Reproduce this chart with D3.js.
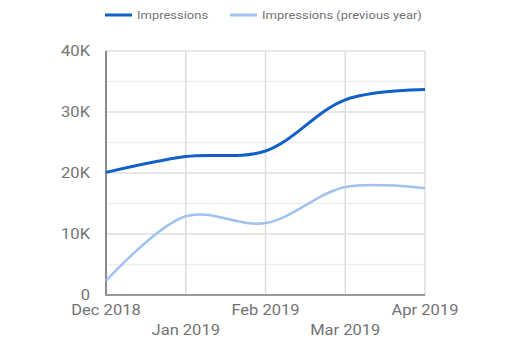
<!DOCTYPE html>
<html><head><meta charset="utf-8">
<script src="https://cdn.jsdelivr.net/npm/d3@7"></script>
<style>body{margin:0;background:#fff;} text{font-family:Roboto,"Noto Sans",sans-serif;}</style>
</head><body>
<script>
const categories = ["Dec 2018","Jan 2019","Feb 2019","Mar 2019","Apr 2019"];
const impressions = [20100, 22700, 23600, 32000, 33700];
const impressionsPrev = [2300, 12900, 11800, 17700, 17500];
const seriesNames = ["Impressions","Impressions (previous year)"];
const yTicks = [0,10000,20000,30000,40000];
const yTickLabels = ["0","10K","20K","30K","40K"];

const W=505,H=348;
const sx=1.18;
const margin={left:106,right:80,top:51,bottom:53};
const svg=d3.select("body").append("svg").attr("width",W).attr("height",H);
const x=d3.scalePoint().domain(categories).range([margin.left,W-margin.right]);
const y=d3.scaleLinear().domain([0,40000]).range([H-margin.bottom,margin.top]);
const colors=["#1160c8","#9fc2ef"];
const txtColor="#737373";

function stext(g,xp,yp,str,size,anchor){
  return g.append("text").attr("transform",`translate(${xp},${yp}) scale(${sx},1)`)
    .attr("text-anchor",anchor).attr("font-size",size).attr("fill",txtColor).text(str);
}

// minor gridlines
const minor=d3.range(5000,40000,10000);
svg.append("g").selectAll("line").data(minor).join("line")
  .attr("x1",margin.left).attr("x2",W-margin.right)
  .attr("y1",d=>y(d)).attr("y2",d=>y(d)).attr("stroke","#eeeeee").attr("stroke-width",1.5);
// major gridlines
svg.append("g").selectAll("line").data(yTicks.slice(1)).join("line")
  .attr("x1",margin.left).attr("x2",W-margin.right)
  .attr("y1",d=>y(d)).attr("y2",d=>y(d)).attr("stroke","#dedede").attr("stroke-width",1.5);
// vertical gridlines
svg.append("g").selectAll("line").data(categories.slice(1)).join("line")
  .attr("x1",d=>x(d)).attr("x2",d=>x(d))
  .attr("y1",y(0)).attr("y2",y(40000)).attr("stroke","#dedede").attr("stroke-width",1.5);

// axes lines
svg.append("line").attr("x1",margin.left).attr("x2",margin.left).attr("y1",y(0)+1).attr("y2",y(40000))
  .attr("stroke","#8a8a8a").attr("stroke-width",2);
svg.append("line").attr("x1",margin.left-1).attr("x2",W-margin.right).attr("y1",y(0)).attr("y2",y(0))
  .attr("stroke","#9a9a9a").attr("stroke-width",2);

// y labels
const gy=svg.append("g");
yTicks.forEach((t,i)=>{ stext(gy,90,y(t)+5,yTickLabels[i],14,"end"); });
// x labels, staggered
const gx=svg.append("g");
categories.forEach((c,i)=>{ stext(gx,x(c),i%2===0?315:335,c,14,"middle"); });

// lines
const line=d3.line().x((d,i)=>x(categories[i])).y(d=>y(d)).curve(d3.curveCatmullRom.alpha(0.5));
svg.append("path").datum(impressionsPrev).attr("d",line).attr("fill","none")
  .attr("stroke",colors[1]).attr("stroke-width",2.5);
svg.append("path").datum(impressions).attr("d",line).attr("fill","none")
  .attr("stroke",colors[0]).attr("stroke-width",3);

// legend
const lg=svg.append("g");
const legX=[105,230];
seriesNames.forEach((n,i)=>{
  lg.append("line").attr("x1",legX[i]).attr("x2",legX[i]+27).attr("y1",15).attr("y2",15)
    .attr("stroke",colors[i]).attr("stroke-width",3);
  stext(lg,legX[i]+32,19,n,11,"start");
});
</script>
</body></html>
